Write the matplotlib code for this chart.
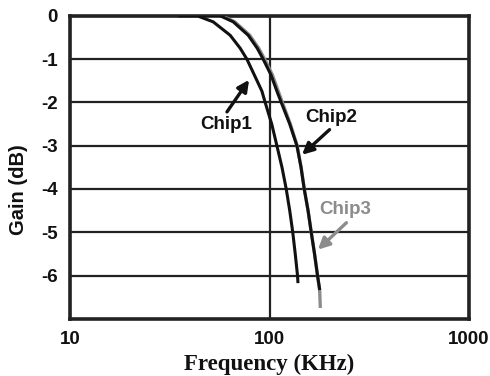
import matplotlib
matplotlib.use("Agg")
import matplotlib.pyplot as plt
from matplotlib.ticker import FixedLocator, NullLocator

# data (frequency in KHz, gain in dB)
chip1_freq = [35.6, 43.4, 52.2, 63.5, 71.3, 77.0, 83.8, 91.6, 95.1, 102.6,
              108.9, 115.5, 121.3, 126.3, 130.8, 134.6, 138.2, 138.8]
chip1_gain = [0.0, 0.0, -0.14, -0.45, -0.75, -1.0, -1.36, -1.74, -2.0, -2.5,
              -3.0, -3.5, -4.0, -4.5, -5.0, -5.5, -6.0, -6.14]

chip2_freq = [40.0, 56.6, 65.8, 78.2, 86.8, 92.9, 101.6, 108.9, 114.5, 126.3,
              137.2, 143.9, 149.3, 156.1, 161.9, 168.2, 174.1, 178.2]
chip2_gain = [0.0, 0.0, -0.14, -0.45, -0.75, -1.0, -1.36, -1.74, -2.0, -2.5,
              -3.0, -3.5, -4.0, -4.5, -5.0, -5.5, -6.0, -6.3]

chip3_freq = [40.0, 57.6, 67.0, 79.6, 88.3, 94.5, 103.3, 110.6, 116.0, 127.2,
              137.6, 144.1, 149.4, 156.1, 161.9, 168.2, 174.1, 178.5, 179.7]
chip3_gain = [0.0, 0.0, -0.14, -0.45, -0.75, -1.0, -1.36, -1.74, -2.0, -2.5,
              -3.0, -3.5, -4.0, -4.5, -5.0, -5.5, -6.0, -6.35, -6.71]

y_ticks = [0, -1, -2, -3, -4, -5, -6]
x_ticks = [10, 100, 1000]

fig = plt.figure(figsize=(4.9, 3.76), dpi=100)
ax = fig.add_axes([0.143, 0.152, 0.814, 0.806])

ax.plot(chip3_freq, chip3_gain, color="#8c8c8c", lw=2.4, zorder=3,
        solid_joinstyle="round")
ax.plot(chip1_freq, chip1_gain, color="#111111", lw=2.2, zorder=4,
        solid_joinstyle="round")
ax.plot(chip2_freq, chip2_gain, color="#111111", lw=2.2, zorder=4,
        solid_joinstyle="round")

ax.set_xscale("log")
ax.set_xlim(10, 1000)
ax.set_ylim(-7, 0)
ax.xaxis.set_major_locator(FixedLocator(x_ticks))
ax.xaxis.set_minor_locator(NullLocator())
ax.set_yticks(y_ticks)
ax.set_xticklabels([str(t) for t in x_ticks])
ax.set_yticklabels([str(t) for t in y_ticks])
ax.tick_params(axis="y", length=0, pad=9, labelsize=13.5)
ax.tick_params(axis="x", length=0, pad=9, labelsize=13.5)
for lab in ax.get_xticklabels() + ax.get_yticklabels():
    lab.set_fontfamily("Liberation Sans")
    lab.set_fontweight("bold")
    lab.set_color("#111111")

ax.grid(True, which="major", color="#222222", lw=1.6)
ax.set_axisbelow(True)
for sp in ax.spines.values():
    sp.set_linewidth(2.6)
    sp.set_color("#222222")

ax.set_xlabel("Frequency (KHz)", family="Liberation Serif", fontweight="bold",
              fontsize=16.5, labelpad=4, color="#111111")
ax.set_ylabel("Gain (dB)", family="Liberation Sans", fontweight="bold",
              fontsize=14.5, color="#111111", va="center")
ax.yaxis.set_label_coords(-0.13, 0.426)

arrow = dict(arrowstyle="-|>", lw=2.4, mutation_scale=17, shrinkA=0, shrinkB=0)
ax.annotate("", xy=(79, -1.48), xytext=(61.2, -2.22),
            arrowprops=dict(arrow, color="#111111"))
ax.text(60.7, -2.52, "Chip1", ha="center", va="center", fontsize=13.5,
        family="Liberation Sans", fontweight="bold", color="#111111")

ax.annotate("", xy=(145.6, -3.21), xytext=(200, -2.63),
            arrowprops=dict(arrow, color="#111111"))
ax.text(203, -2.36, "Chip2", ha="center", va="center", fontsize=13.5,
        family="Liberation Sans", fontweight="bold", color="#111111")

ax.annotate("", xy=(175, -5.40), xytext=(243, -4.78),
            arrowprops=dict(arrow, color="#8c8c8c"))
ax.text(241, -4.48, "Chip3", ha="center", va="center", fontsize=13.5,
        family="Liberation Sans", fontweight="bold", color="#8c8c8c")

fig.savefig("out.png", dpi=100)
